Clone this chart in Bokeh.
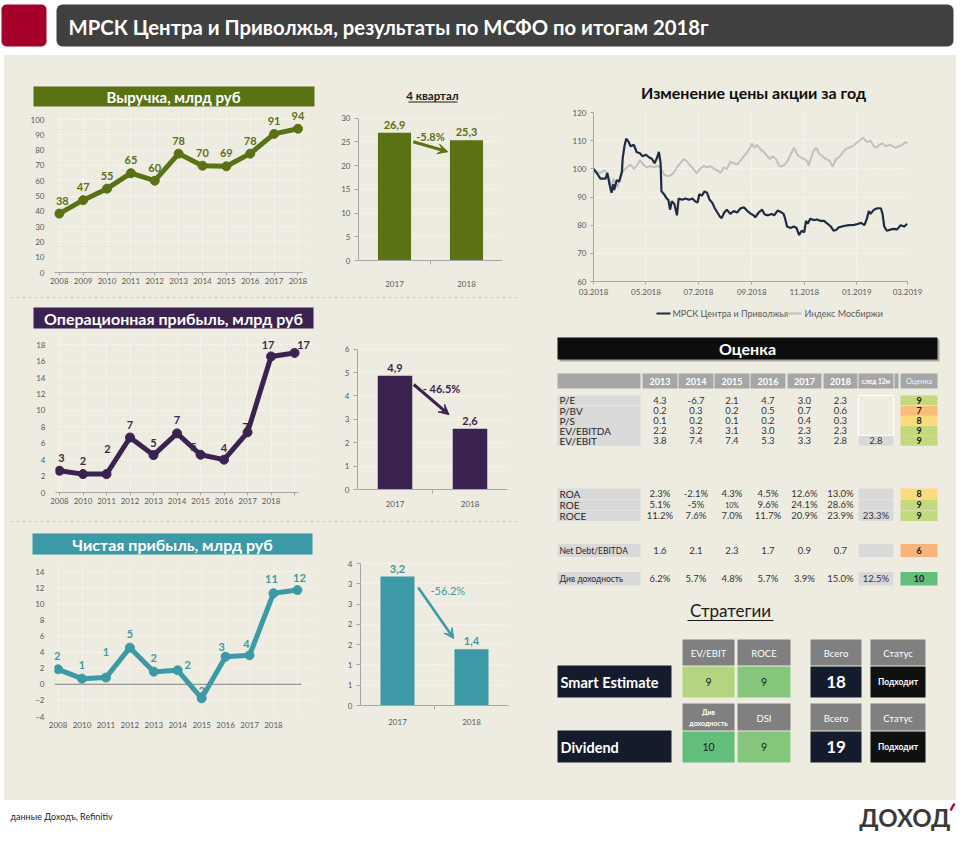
from bokeh.plotting import figure
from bokeh.models import Range1d, FixedTicker, Arrow, VeeHead, Spacer
from bokeh.layouts import row, column
from bokeh.core.properties import value
from bokeh.embed import file_html
from bokeh.resources import INLINE

FONT = "Lato"
BEIGE = "#EEECE1"
TICK = "#595959"
AXIS = "#A6A6A6"

# ---------------- data ----------------
TITLE = "МРСК Центра и Приволжья, результаты по МСФО по итогам 2018г"
years = ["2008", "2009", "2010", "2011", "2012", "2013", "2014", "2015", "2016", "2017", "2018"]
rev = [38.5, 47.3, 54.8, 64.9, 60.0, 77.7, 69.8, 69.4, 77.7, 90.6, 94.0]
rev_labels = ["38", "47", "55", "65", "60", "78", "70", "69", "78", "91", "94"]
op_years = ["2008", "2010", "2011", "2012", "2013", "2014", "2015", "2016", "2017", "2018"]
op = [2.65, 2.24, 2.24, 6.7, 4.56, 7.2, 4.6, 4.0, 7.33, 16.57, 17.0]
op_labels = ["3", "2", "2", "7", "5", "7", "5", "4", "7", "17", "17"]
net_years = ["2008", "2010", "2011", "2012", "2013", "2014", "2015", "2016", "2017", "2018"]
net = [1.86, 0.7, 0.83, 4.55, 1.57, 1.74, -1.74, 3.43, 3.6, 11.3, 11.7]
net_labels = ["2", "1", "1", "5", "2", "2", "-2", "3", "4", "11", "12"]

q_years = ["2017", "2018"]
q_rev = [26.9, 25.3]
q_rev_labels = ["26,9", "25,3"]
q_rev_pct = "-5.8%"
q_op = [4.86, 2.6]
q_op_labels = ["4,9", "2,6"]
q_op_pct = "- 46.5%"
q_net = [3.18, 1.39]
q_net_labels = ["3,2", "1,4"]
q_net_pct = "-56.2%"
q_net_ticks = [0, 0.5, 1, 1.5, 2, 2.5, 3, 3.5]
q_net_ticklabels = ["0", "1", "1", "2", "2", "3", "3", "4"]

stock_title = "Изменение  цены акции за год"
stock_ticks = [0, 61, 122, 184, 245, 306, 365]
stock_ticklabels = ["03.2018", "05.2018", "07.2018", "09.2018", "11.2018", "01.2019", "03.2019"]
mrsk_days = [0, 5, 8, 14, 16, 19, 21, 23, 24, 27, 30, 33, 34, 36, 38, 41, 43, 47, 50, 54,
             57, 61, 65, 68, 71, 74, 76, 78, 79, 82, 85, 87, 89, 91, 94, 97, 99, 103, 107, 111,
             115, 118, 121, 123, 126, 129, 132, 135, 138, 141, 144, 147, 149, 152, 155, 159, 163, 167, 171, 175,
             179, 183, 186, 188, 192, 196, 199, 203, 207, 210, 214, 217, 221, 223, 225, 229, 233, 236, 239, 242,
             245, 247, 249, 252, 256, 260, 264, 268, 272, 276, 279, 282, 285, 291, 297, 303, 307, 311, 315, 318,
             320, 322, 326, 330, 334, 336, 338, 341, 346, 349, 353, 357, 361, 365]
mrsk_vals = [100, 98, 96.5, 96.5, 98.5, 94, 91.5, 94.5, 92.5, 96, 95.5, 99, 104, 108, 110.7, 109.5, 108, 108.5, 106, 105.5,
             104.5, 105, 104, 103.5, 102, 104, 106, 102, 92, 91, 89.5, 89, 85.5, 88.5, 87.5, 83.5, 89.5, 89, 89.5, 89,
             89.5, 88.5, 88, 91, 90.5, 92, 91.5, 89, 88, 86, 84.5, 83, 82.5, 84.5, 85.5, 84, 85, 84.5, 86, 86.3,
             85, 84, 83.5, 82.8, 84.5, 85.5, 83.8, 83.5, 84, 83.5, 85.2, 84.8, 84, 82, 79.5, 79, 79.5, 79, 76.5, 78,
             77.5, 81.5, 80.5, 82.3, 81.8, 82, 81.5, 81.5, 80.5, 79.5, 78, 78.3, 79.2, 79.7, 80, 80.1, 80.4, 80.8, 80, 82.5,
             85, 84, 85.5, 86, 86, 84, 79.5, 78, 78.5, 78.7, 78.5, 80, 79.5, 80.5]
idx_days = [0, 4, 8, 12, 16, 19, 20, 23, 25, 28, 31, 35, 39, 43, 47, 50, 54, 58, 62, 66,
            70, 74, 78, 82, 85, 89, 93, 97, 101, 105, 109, 113, 116, 120, 124, 128, 132, 136, 140, 144,
            148, 151, 155, 159, 163, 167, 171, 175, 179, 183, 184, 187, 190, 194, 198, 202, 205, 208, 212, 216,
            219, 222, 225, 229, 233, 237, 241, 245, 249, 250, 253, 256, 259, 262, 266, 270, 274, 278, 282, 285,
            289, 293, 297, 301, 305, 309, 313, 315, 318, 322, 326, 329, 332, 336, 340, 344, 348, 351, 355, 359,
            363, 365]
idx_vals = [100, 99, 98.5, 99.5, 98.5, 96, 92, 96.5, 95, 93.5, 97, 99.5, 100.5, 101.5, 100, 101, 103, 101.5, 100.5, 101,
            100.5, 101, 100.5, 98, 97.5, 97.5, 98.5, 100.5, 102, 103.5, 102.5, 101, 100, 98.5, 100, 101, 100.5, 101, 100, 99.5,
            98.5, 100.5, 100, 102.5, 102, 101.5, 103, 104.5, 106, 108, 109, 107.5, 108.5, 107, 106, 104.5, 103.5, 104.5, 103.5, 101,
            100.8, 101.5, 102.5, 105, 107.5, 105, 104, 103.5, 102.5, 101, 104, 106.5, 107.5, 105.5, 104.5, 103.5, 103, 100.8, 103.5, 104,
            105.5, 107, 107.5, 108, 109, 110, 111, 110.5, 109.5, 110, 108, 107.5, 108.5, 109, 108, 108.5, 108, 107.5, 108, 108.5,
            109.5, 109]
legend_labels = ["МРСК Центра и Приволжья", "Индекс Мосбиржи"]

table_title = "Оценка"
table_years = ["2013", "2014", "2015", "2016", "2017", "2018"]
row_names = ["P/E", "P/BV", "P/S", "EV/EBITDA", "EV/EBIT", "ROA", "ROE", "ROCE", "Net Debt/EBITDA", "Див доходность"]
table_vals = [
    ["4.3", "-6.7", "2.1", "4.7", "3.0", "2.3"],
    ["0.2", "0.3", "0.2", "0.5", "0.7", "0.6"],
    ["0.1", "0.2", "0.1", "0.2", "0.4", "0.3"],
    ["2.2", "3.2", "3.1", "3.0", "2.3", "2.3"],
    ["3.8", "7.4", "7.4", "5.3", "3.3", "2.8"],
    ["2.3%", "-2.1%", "4.3%", "4.5%", "12.6%", "13.0%"],
    ["5.1%", "-5%", "10%", "9.6%", "24.1%", "28.6%"],
    ["11.2%", "7.6%", "7.0%", "11.7%", "20.9%", "23.9%"],
    ["1.6", "2.1", "2.3", "1.7", "0.9", "0.7"],
    ["6.2%", "5.7%", "4.8%", "5.7%", "3.9%", "15.0%"],
]
next12 = ["", "", "", "", "2.8", "", "", "23.3%", "", "12.5%"]
scores = ["9", "7", "8", "9", "9", "8", "9", "9", "6", "10"]

strat_title = "Стратегии"
strat_names = ["Smart Estimate", "Dividend"]
strat_headers = [["EV/EBIT", "ROCE", "Всего", "Статус"], ["Див|доходность", "DSI", "Всего", "Статус"]]
strat_scores = [["9", "9"], ["10", "9"]]
strat_totals = ["18", "19"]
strat_status = ["Подходит", "Подходит"]
footer_src = "данные Доходъ, Refinitiv"
logo = "ДОХОД"

# ---------------- styles / geometry ----------------
OLIVE = "#5A7114"
PURPLE = "#3B2250"
TEAL = "#3B9AA6"
rev_dx = [3, 0, 0, 0, 0, 0, 0, 0, 0, 0, 0]
rev_dy = [-13] * 11
op_dx = [2, 0, 1, 0, 0, 0, -7, 0, -2, -3, 9]
op_dy = [-13, -13, -25, -12, -12, -13, -8, -12, -5, -11, -8]
net_dx = [-1, 0, 0, 0, 0, 10, -2, -4, -3, -2, 2]
net_dy = [-13, -14, -26, -14, -14, -5, -7, -10, -11, -14, -12]
score_colors = ["#C4D87E", "#F8BD79", "#FBDB7D", "#C4D87E", "#C4D87E",
                "#FBDB7D", "#C4D87E", "#C4D87E", "#F7B57A", "#63BE7B"]
col_l = [642, 678, 714, 750, 787, 823]
col_r = [677, 713, 749, 785, 821, 857]
row_top = [395, 405.5, 415.5, 425.5, 435.5, 488, 499, 510, 543.5, 571.5]
row_h = [9.8, 9.8, 9.8, 9.8, 9.8, 10.5, 10.5, 10.5, 13, 13.5]


def canvas(x0, x1, y0, y1, bg=BEIGE):
    p = figure(width=x1 - x0, height=y1 - y0, x_range=Range1d(x0, x1), y_range=Range1d(y1, y0),
               x_axis_type=None, y_axis_type=None, toolbar_location=None, output_backend="svg",
               min_border=0, title=None)
    p.outline_line_color = None
    p.background_fill_color = bg
    p.border_fill_color = bg
    return p


def txt(p, x, y, s, size, color, bold=False, align="center", baseline="middle", font=FONT):
    p.text(x=[x], y=[y], text=[s], text_font=value(font), text_font_size=f"{size}px",
           text_color=color, text_align=align, text_baseline=baseline,
           text_font_style="bold" if bold else "normal")


def box(p, l, r, t, b, color, radius=0):
    if radius:
        p.quad(left=[l], right=[r], top=[t], bottom=[b], fill_color=color, line_color=None, border_radius=radius)
    else:
        p.quad(left=[l], right=[r], top=[t], bottom=[b], fill_color=color, line_color=None)


def style_axes(p, size="8px"):
    for ax in [p.xaxis, p.yaxis]:
        ax.major_label_text_font = FONT
        ax.major_label_text_font_size = size
        ax.major_label_text_color = TICK
        ax.minor_tick_line_color = None


def base_fig(w, h, xr, yr, l, r, t, b):
    p = figure(width=w, height=h, x_range=Range1d(*xr), y_range=Range1d(*yr), toolbar_location=None,
               output_backend="svg", title=None, min_border_left=l, min_border_right=r,
               min_border_top=t, min_border_bottom=b)
    p.background_fill_color = BEIGE
    p.border_fill_color = BEIGE
    p.outline_line_color = None
    return p


def line_chart(xlabels, vals, labels, color, lcolor, w, h, xr, yr, borders, yticks, dx, dy, zero=False):
    p = base_fig(w, h, xr, yr, *borders)
    style_axes(p)
    xs = list(range(len(vals)))
    p.xaxis.ticker = FixedTicker(ticks=xs, minor_ticks=[])
    p.xaxis.major_label_overrides = {i: (xlabels[i] if i < len(xlabels) else "") for i in xs}
    p.yaxis.ticker = FixedTicker(ticks=yticks, minor_ticks=[])
    p.yaxis.axis_line_color = None
    p.yaxis.major_tick_line_color = None
    p.yaxis.major_label_standoff = 4
    p.xaxis.major_tick_out = 3
    p.xaxis.major_tick_in = 0
    p.xaxis.major_label_standoff = 2
    xend = len(vals) - 1 + 0.17
    if zero:
        p.xaxis.axis_line_color = None
        p.xaxis.major_tick_line_color = None
        p.line([xr[0], xend], [0, 0], line_color="#7F7F7F", line_width=1)
    else:
        p.xaxis.axis_line_color = AXIS
        p.xaxis.major_tick_line_color = AXIS
        p.xaxis.bounds = (xr[0], xend)
    for g in [p.xgrid, p.ygrid]:
        g.grid_line_color = "white"
        g.grid_line_dash = "1 2"
        g.grid_line_width = 1
    p.line(xs, vals, line_color=color, line_width=5, line_join="round")
    p.scatter(xs, vals, size=9, fill_color=color, line_color=color)
    p.text(xs, vals, text=labels, x_offset=dx, y_offset=dy, text_align="center", text_baseline="middle",
           text_font=value(FONT), text_font_size="11px", text_font_style="bold", text_color=lcolor)
    return p


def bar_chart(vals, labels, pct, color, w, h, yr, bounds, borders, yticks, arrow, pct_xy, standoff,
              ytl=None, lw=3, pct_bold=True):
    p = base_fig(w, h, (-0.5, 1.5), yr, *borders)
    style_axes(p)
    p.xaxis.ticker = FixedTicker(ticks=[0, 1], minor_ticks=[0.5])
    p.xaxis.major_label_overrides = {0: q_years[0], 1: q_years[1]}
    p.xaxis.major_tick_line_color = None
    p.xaxis.minor_tick_line_color = AXIS
    p.xaxis.minor_tick_out = 4
    p.xaxis.minor_tick_in = 0
    p.xaxis.axis_line_color = AXIS
    p.xaxis.major_label_standoff = standoff
    p.yaxis.ticker = FixedTicker(ticks=yticks, minor_ticks=[])
    if ytl:
        p.yaxis.major_label_overrides = {t: s for t, s in zip(yticks, ytl)}
    p.yaxis.axis_line_color = AXIS
    p.yaxis.major_tick_line_color = AXIS
    p.yaxis.major_tick_out = 4
    p.yaxis.major_tick_in = 0
    p.yaxis.bounds = bounds
    p.yaxis.major_label_standoff = 4
    p.xgrid.grid_line_color = None
    p.ygrid.grid_line_color = "white"
    p.ygrid.grid_line_dash = "1 2"
    p.vbar(x=[0, 1], top=vals, width=0.46, fill_color=color, line_color=None)
    p.text([0, 1], vals, text=labels, y_offset=-4, text_align="center", text_baseline="bottom",
           text_font=value(FONT), text_font_size="11px", text_font_style="bold", text_color=color)
    xs, ys, xe, ye = arrow
    p.add_layout(Arrow(x_start=xs, y_start=ys, x_end=xe, y_end=ye, line_color=color, line_width=lw,
                       end=VeeHead(size=10, fill_color=color, line_color=color, line_width=1)))
    p.text([pct_xy[0]], [pct_xy[1]], text=[pct], text_align="center", text_baseline="middle",
           text_font=value(FONT), text_font_size="11px",
           text_font_style="bold" if pct_bold else "normal", text_color=color)
    return p


def solo(fig):
    return column(fig)


# ---------------- header / footer ----------------
hdr = canvas(0, 971, 0, 55, bg="white")
box(hdr, 1, 46, 4, 46, "#A50029", radius=5)
box(hdr, 56, 953, 4, 46, "#404040", radius=6)
txt(hdr, 68, 26, TITLE, 20.3, "white", bold=True, align="left")

ftr = canvas(0, 971, 800, 865, bg="white")
txt(ftr, 10, 816, footer_src, 9, "#262626", align="left")
txt(ftr, 950, 817, logo, 24, "#3A3A3A", bold=True, align="right")
ftr.line([950, 954], [810, 803], line_color="#C0002A", line_width=2.5)

# ---------------- left column ----------------
t1 = canvas(4, 520, 55, 108)
box(t1, 33, 314, 86, 106, OLIVE)
txt(t1, 173, 96, "Выручка, млрд руб", 15, "white", bold=True)
txt(t1, 432, 95, "4 квартал", 11.5, "#1A1A1A", bold=True)
t1.line([408, 457], [101.5, 101.5], line_color="#1A1A1A", line_width=1)

rev_line = line_chart(years, rev, rev_labels, OLIVE, OLIVE, 321, 188, (-0.2, 10.4), (0, 107.2),
                      (50, 18, 0, 24), list(range(0, 101, 10)), rev_dx, rev_dy)
rev_bar = bar_chart(q_rev, q_rev_labels, q_rev_pct, OLIVE, 195, 188, (0, 32), (0, 30), (33, 18, 0, 36),
                    list(range(0, 31, 5)), (0.26, 25.0, 0.74, 22.9), (0.5, 26.2), 14)

t2 = canvas(4, 520, 296, 336)
t2.line([10, 520], [297, 297], line_color="#C8C8C8", line_width=1, line_dash="3 3")
box(t2, 33, 313, 307, 328, PURPLE)
txt(t2, 173, 317.5, "Операционная прибыль, млрд руб", 16, "white", bold=True)

op_line = line_chart(op_years, op, op_labels, PURPLE, "#3A2A4C", 321, 184, (-0.17, 10.89), (0, 19),
                     (51, 10, 0, 28), list(range(0, 19, 2)), op_dx, op_dy)
op_bar = bar_chart(q_op, q_op_labels, q_op_pct, PURPLE, 195, 184, (0, 6.5), (0, 6), (32, 13, 1, 31),
                   list(range(0, 7)), (0.25, 4.49, 0.72, 3.2), (0.62, 4.3), 5)

t3 = canvas(4, 520, 520, 558)
t3.line([10, 520], [521, 521], line_color="#C8C8C8", line_width=1, line_dash="3 3")
box(t3, 32, 312, 533, 554, TEAL)
txt(t3, 172, 543.5, "Чистая прибыль, млрд руб", 16, "white", bold=True)

net_line = line_chart(net_years, net, net_labels, TEAL, TEAL, 321, 242, (-0.15, 10.84), (-4, 15),
                      (50, 8, 5, 84), list(range(-4, 15, 2)), net_dx, net_dy, zero=True)
net_bar = bar_chart(q_net, q_net_labels, q_net_pct, TEAL, 195, 242, (0, 3.6), (0, 3.5), (35, 12, 1, 95),
                    q_net_ticks, (0.28, 2.91, 0.76, 1.65), (0.68, 2.83), 7, ytl=q_net_ticklabels, lw=2.5,
                    pct_bold=False)

left = column(solo(t1), row(solo(rev_line), solo(rev_bar)), solo(t2), row(solo(op_line), solo(op_bar)),
              solo(t3), row(solo(net_line), solo(net_bar)))

# ---------------- stock chart ----------------
st = canvas(520, 956, 55, 105)
txt(st, 755, 92, stock_title, 16, "#0D0D0D", bold=True)

sp = base_fig(436, 195, (0, 365), (60, 120), 73, 49, 7, 19)
style_axes(sp)
sp.xaxis.ticker = FixedTicker(ticks=stock_ticks, minor_ticks=[])
sp.xaxis.major_label_overrides = {t: s for t, s in zip(stock_ticks, stock_ticklabels)}
sp.yaxis.ticker = FixedTicker(ticks=list(range(60, 121, 10)), minor_ticks=[])
for ax in [sp.xaxis, sp.yaxis]:
    ax.axis_line_color = AXIS
    ax.major_tick_line_color = AXIS
    ax.major_tick_out = 3
    ax.major_tick_in = 0
    ax.major_label_standoff = 4
for g in [sp.xgrid, sp.ygrid]:
    g.grid_line_color = "white"
    g.grid_line_dash = "1 2"
sp.line(idx_days, idx_vals, line_color="#C0C0C0", line_width=2)
sp.line(mrsk_days, mrsk_vals, line_color="#1F2B45", line_width=2.2)

lg = canvas(520, 956, 300, 330)
lg.line([656, 670], [313, 313], line_color="#1F2B45", line_width=2)
txt(lg, 672, 313, legend_labels[0], 9, TICK, align="left")
lg.line([786, 801], [313, 313], line_color="#C0C0C0", line_width=2)
txt(lg, 804, 313, legend_labels[1], 9, TICK, align="left")

# ---------------- table + strategies ----------------
T = canvas(520, 956, 330, 800)
box(T, 559, 939, 339, 361, "#A8A8A0")
box(T, 557, 937, 337, 359, "#0D0D0D")
txt(T, 747, 348, table_title, 16, "white", bold=True)
box(T, 557, 640, 373, 388, "#A6A6A6")
for i, yv in enumerate(table_years):
    box(T, col_l[i], col_r[i], 373, 388, "#A6A6A6")
    txt(T, (col_l[i] + col_r[i]) / 2, 380.5, yv, 9, "white", bold=True)
box(T, 858, 893, 373, 388, "#A6A6A6")
txt(T, 875.5, 380.5, "след 12м", 6.5, "white", bold=True)
box(T, 894, 898, 373, 388, "#A6A6A6")
box(T, 900, 937, 373, 388, "#A6A6A6")
txt(T, 918.5, 380.5, "Оценка", 7.5, "#F2F2F2")
T.quad(left=[858], right=[893], top=[395], bottom=[435.3], fill_color=None, line_color="white", line_width=1)
for k, name in enumerate(row_names):
    t0 = row_top[k]
    t1b = t0 + row_h[k]
    cy = (t0 + t1b) / 2
    box(T, 557, 640, t0, t1b, "#D9D9D9")
    small = k >= 8
    txt(T, 559, cy, name, 8.5 if small else 10, "#262626", align="left")
    for i, v in enumerate(table_vals[k]):
        fs = 7 if (k == 6 and i == 2) else 9.5
        txt(T, (col_l[i] + col_r[i]) / 2, cy, v, fs, "#333333")
    if k >= 4:
        box(T, 858, 893, t0, t1b, "#D9D9D9")
    if next12[k]:
        txt(T, 875.5, cy, next12[k], 9.5, "#333333")
    box(T, 900, 937, t0, t1b, score_colors[k])
    txt(T, 918.5, cy, scores[k], 9, "#1A1A1A", bold=True)

txt(T, 730, 610, strat_title, 17, "#1A1A1A")
T.line([687, 773], [620, 620], line_color="#1A1A1A", line_width=1)
hcells = [(682, 734), (737, 790), (810, 861), (870, 925)]
strat_y = [(639, 665, 666, 697), (703, 730, 731, 762)]
sc_colors = [["#B3D580", "#86C67C"], ["#63BE7B", "#86C67C"]]
for s, name in enumerate(strat_names):
    ht, hb, vt, vb = strat_y[s]
    box(T, 557, 671, vt - 1, vb, "#141B2D")
    txt(T, 560, (vt + vb) / 2, name, 14.5, "white", bold=True, align="left")
    for c, (l, r) in enumerate(hcells):
        box(T, l, r, ht, hb, "#808080")
        hx = (l + r) / 2
        lab = strat_headers[s][c]
        if "|" in lab:
            a, b = lab.split("|")
            txt(T, hx, ht + 8, a, 7, "white", bold=True)
            txt(T, hx, ht + 19, b, 7, "white", bold=True)
        else:
            txt(T, hx, (ht + hb) / 2 + 1, lab, 9.5, "white")
    cy = (vt + vb) / 2
    for c in range(2):
        l, r = hcells[c]
        box(T, l, r, vt, vb, sc_colors[s][c])
        txt(T, (l + r) / 2, cy, strat_scores[s][c], 10.5, "#1A1A1A")
    l, r = hcells[2]
    box(T, l, r, vt, vb, "#141B2D")
    txt(T, (l + r) / 2, cy, strat_totals[s], 17, "white", bold=True)
    l, r = hcells[3]
    box(T, l, r, vt, vb, "#0F1010")
    txt(T, (l + r) / 2, cy, strat_status[s], 8.5, "white", bold=True)

right = column(solo(st), solo(sp), solo(lg), solo(T))

middle = row(Spacer(width=4, height=745, styles={"background-color": "white"}), left, right,
             Spacer(width=15, height=745, styles={"background-color": "white"}),
             styles={"background-color": BEIGE})
page = column(solo(hdr), middle, solo(ftr))

open("out.html", "w").write(file_html(page, INLINE))
